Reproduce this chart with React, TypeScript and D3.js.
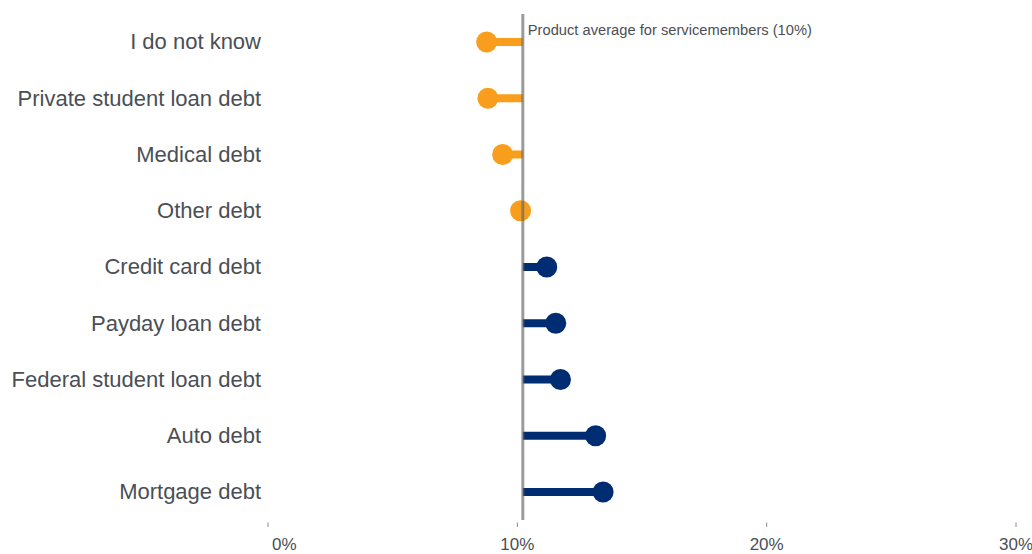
import React from "react";
import * as d3 from "d3";

const categories = [
  "I do not know",
  "Private student loan debt",
  "Medical debt",
  "Other debt",
  "Credit card debt",
  "Payday loan debt",
  "Federal student loan debt",
  "Auto debt",
  "Mortgage debt",
];
const values = [8.77, 8.82, 9.41, 10.13, 11.18, 11.54, 11.73, 13.14, 13.44];
const averageValue = 10.22;
const averageLabel = "Product average for servicemembers (10%)";
const tickValues = [0, 10, 20, 30];

const W = 1032;
const H = 554;
const margin = { left: 268, right: 16, top: 14, bottom: 34 };
const ORANGE = "#f99e1c";
const NAVY = "#002d72";
const TEXT = "#4a4f55";

export default function App() {
  const x = d3.scaleLinear().domain([0, 30]).range([margin.left, W - margin.right]);
  const y = d3
    .scalePoint<string>()
    .domain(categories)
    .range([42, 492]);
  const plotBottom = H - margin.bottom;
  const ax = x(averageValue);

  return (
    <svg
      width={W}
      height={H}
      style={{ position: "absolute", left: 0, top: 0, fontFamily: "Liberation Sans, Arial, sans-serif" }}
    >
      {categories.map((c, i) => {
        const v = values[i];
        const cy = y(c) as number;
        const color = v < averageValue ? ORANGE : NAVY;
        return (
          <g key={c}>
            <text x={261} y={cy} dy="0.33em" textAnchor="end" fontSize={22} fill={TEXT}>
              {c}
            </text>
            <line x1={ax} x2={x(v)} y1={cy} y2={cy} stroke={color} strokeWidth={8} />
            <circle cx={x(v)} cy={cy} r={10.5} fill={color} />
          </g>
        );
      })}
      <line x1={ax} x2={ax} y1={margin.top} y2={plotBottom} stroke="#666" strokeOpacity={0.65} strokeWidth={3} />
      <text x={ax + 5} y={35} fontSize={14.7} fill={TEXT}>
        {averageLabel}
      </text>
      {tickValues.map((t, i) => (
        <g key={t}>
          <line x1={x(t)} x2={x(t)} y1={522.5} y2={527} stroke="#888" strokeWidth={1} />
          <text
            x={i === 0 ? x(t) + 4 : x(t)}
            y={550}
            textAnchor={i === 0 ? "start" : "middle"}
            fontSize={17}
            fill={TEXT}
          >
            {t}%
          </text>
        </g>
      ))}
    </svg>
  );
}
